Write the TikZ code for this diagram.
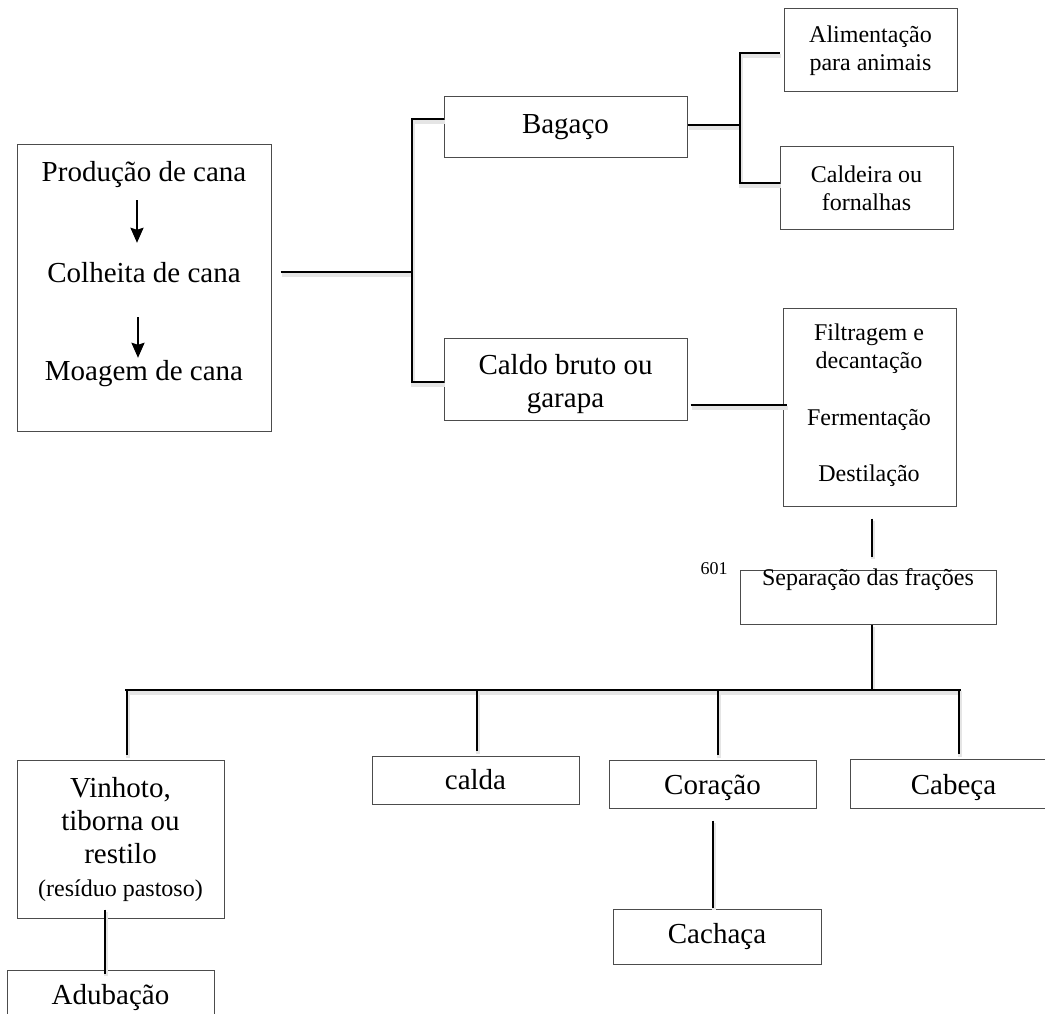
\documentclass[tikz,border=0pt]{standalone}
\usepackage{fontspec}
\setmainfont{Liberation Serif}
\usetikzlibrary{arrows.meta}

\newcommand{\bigtxt}{\fontsize{29}{33}\selectfont}
\newcommand{\smalltxt}{\fontsize{24}{28}\selectfont}

\begin{document}
\begin{tikzpicture}[x=1pt,y=-1pt,
    box/.style={draw=black!70,line width=1pt,inner sep=0pt,align=center,font=\bigtxt},
    smallbox/.style={box,font=\smalltxt},
    bigline/.style={inner sep=0pt,font=\bigtxt,text height=20pt,text depth=6pt},
    smallline/.style={inner sep=0pt,font=\smalltxt,text height=17pt,text depth=5pt},
    link/.style={line width=2.2pt,preaction={draw=black!10,line width=4pt,transform canvas={shift={(1pt,-2.6pt)}}}},
    flecha/.style={line width=2pt,-{Stealth[length=15pt,width=13pt,inset=2pt]}}]
        \useasboundingbox (0,0) rectangle (1045,1014);
        \clip (0,0) rectangle (1045,1014);

        % cana
        \node[box,minimum width=254,minimum height=286] (main) at (144,288) {};
        \node[bigline] (prod) at (144,175) {Produção de cana};
        \node[bigline] (colh) at (144,275) {Colheita de cana};
        \node[bigline] (moag) at (144,373) {Moagem de cana};
        \draw[flecha,shorten <=12,shorten >=19] ([xshift=-7]prod.south) -- ([xshift=-7]colh.north);
        \draw[flecha,shorten <=29,shorten >=2] ([xshift=-6]colh.south) -- ([xshift=-6]moag.north);

        % bagaco e caldo
        \node[box,minimum width=243,minimum height=61] (bag) at (565.5,127.5) {Bagaço};
        \node[box,minimum width=243,minimum height=82] (caldo) at (565.5,379) {};
        \node[inner sep=0pt,align=center,font=\bigtxt] (caldotxt) at (565.5,384) {Caldo bruto ou\\garapa};
        \coordinate (j0) at (412,272);
        \coordinate (jb) at (412,119);
        \coordinate (jc) at (412,382);
        \draw[link,shorten <=9] (main.east |- j0) -- (j0);
        \draw[link] (bag.west |- jb) -- (jb) -- (jc) -- (caldo.west |- jc);

        % destino do bagaco
        \node[smallbox,minimum width=173,minimum height=83] (alim) at (870.5,50.5) {Alimentação\\para animais};
        \node[smallbox,minimum width=173,minimum height=82] (cald) at (866.5,188) {Caldeira ou\\fornalhas};
        \coordinate (k0) at (740,125);
        \coordinate (ka) at (740,53);
        \coordinate (kc) at (740,183);
        \draw[link] (bag.east |- k0) -- (k0);
        \draw[link,shorten <=4] (alim.west |- ka) -- (ka) -- (kc) -- (cald.west |- kc);

        % processo do caldo
        \node[box,minimum width=173,minimum height=198] (filt) at (869.5,407) {};
        \node[smallline] (filt1) at (869,334) {Filtragem e};
        \node[smallline] (filt2) at (869,362) {decantação};
        \node[smallline] (ferm) at (869,419) {Fermentação};
        \node[smallline] (dest) at (869,475) {Destilação};
        \coordinate (m0) at (690,405);
        \draw[link,shorten <=3,shorten >=-4] (caldo.east |- m0) -- (filt.west |- m0);

        % separacao
        \node[box,minimum width=256,minimum height=54] (sep) at (868,597) {};
        \node[smallline] (septxt) at (868,579) {Separação das frações};
        \node[inner sep=0pt,font=\fontsize{18}{20}\selectfont] (num) at (714,569) {601};
        \coordinate (n0) at (872,0);
        \draw[link,shorten <=12,shorten >=13] (filt.south -| n0) -- (sep.north -| n0);

        % fracoes
        \node[box,minimum width=207,minimum height=158] (vin) at (120.5,839) {Vinhoto,\\tiborna ou\\restilo\\{\smalltxt(resíduo pastoso)}};
        \node[box,minimum width=207,minimum height=48] (calda) at (475.5,780) {calda};
        \node[box,minimum width=207,minimum height=48] (cor) at (712.5,784) {};
        \node[bigline] (cortxt) at (712.5,787) {Coração};
        \node[box,minimum width=207,minimum height=49] (cab) at (953.5,783.5) {};
        \node[bigline] (cabtxt) at (953.5,787) {Cabeça};
        \coordinate (sx) at (872,690);
        \coordinate (bl) at (125,690);
        \coordinate (br) at (961,690);
        \draw[link] (sep.south -| sx) -- (sx);
        \draw[link] (bl) -- (br);
        \foreach \n/\x in {vin/127,calda/477,cor/718,cab/959} {
            \coordinate (d) at (\x,690);
            \draw[link,shorten >=4.5] (d) -- (\n.north -| d);
        }

        % produtos finais
        \node[box,minimum width=208,minimum height=55] (cach) at (717,936.5) {Cachaça};
        \node[box,minimum width=207,minimum height=55] (adu) at (110.5,997.5) {Adubação};
        \coordinate (p0) at (713,0);
        \coordinate (q0) at (105,0);
        \draw[link,shorten <=12,shorten >=1] (cor.south -| p0) -- (cach.north -| p0);
        \draw[link,shorten <=-9,shorten >=-4] (vin.south -| q0) -- (adu.north -| q0);
    \end{tikzpicture}
\end{document}
